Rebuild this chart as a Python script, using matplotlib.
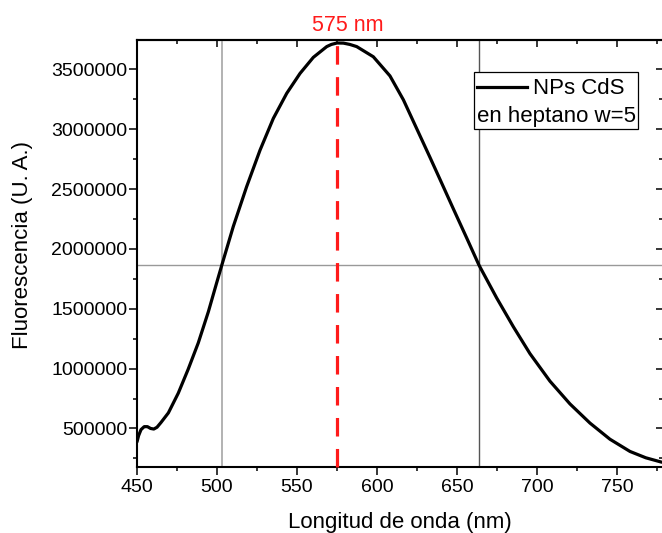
import matplotlib
matplotlib.use("Agg")
import matplotlib.pyplot as plt
import matplotlib.transforms as mtransforms
from matplotlib.patches import Rectangle
from matplotlib.lines import Line2D
from matplotlib.ticker import MultipleLocator

plt.rcParams['font.family'] = ['Liberation Sans', 'DejaVu Sans']

# Emission spectrum of CdS nanoparticles in heptane (w = 5)
wavelength = [450, 451, 452.5, 454.5, 456.5, 458.5, 460.5, 462.5, 465, 469.6,
              475.8, 482, 488.3, 494.6, 499.8, 503, 510.2, 518.5, 526.9, 535.2,
              543.6, 551.9, 560.2, 568.6, 571.5, 575, 579, 583, 587.3, 597.7,
              608.1, 616.5, 624.8, 633.1, 639.4, 647.7, 656.1, 663.75, 674.8, 685.2,
              695.6, 708.1, 720.6, 733.1, 745.6, 758.1, 768, 778]
intensity = [388000, 440000, 490000, 515000, 515000, 500000, 495000, 510000, 550000, 630000,
             795000, 995000, 1215000, 1475000, 1717000, 1864000, 2188000, 2519000, 2825000, 3090000,
             3300000, 3466000, 3600000, 3690000, 3708000, 3720000, 3719000, 3708000, 3690000, 3605000,
             3445000, 3245000, 3005000, 2765000, 2580000, 2335000, 2090000, 1864000, 1590000, 1350000,
             1125000, 895000, 705000, 545000, 410000, 308000, 255000, 218000]

peak_nm = 575
half_max = 1864000
half_left_nm = 503
half_right_nm = 663.75

series_label = "NPs CdS"
series_label_2 = "en heptano w=5"
peak_label = "575 nm"
x_title = "Longitud de onda (nm)"
y_title = "Fluorescencia (U. A.)"

W, H = 662, 533
fig = plt.figure(figsize=(W / 100, H / 100), dpi=100)
ax = fig.add_axes([137 / W, (H - 467) / H, (663.4 - 137) / W, 427 / H])

ax.set_xlim(450, 779)
ax.set_ylim(178000, 3745000)

# FWHM guide lines
ax.axhline(half_max, color='#999999', lw=1.0, zorder=1)
ax.axvline(half_left_nm, color='#a6a6a6', lw=1.2, zorder=1)
ax.axvline(half_right_nm, color='#555555', lw=1.0, zorder=1)

ax.plot(wavelength, intensity, color='black', lw=2.3, zorder=3,
        solid_joinstyle='round', solid_capstyle='round')

# Peak marker
ax.axvline(peak_nm, ymin=0, ymax=1.006, color='#ff1a1a', lw=2.3,
           linestyle=(0, (5.8, 3.9)), clip_on=False, zorder=4)
blend = mtransforms.blended_transform_factory(ax.transData, ax.transAxes)
ax.annotate(peak_label, xy=(peak_nm, 1.0), xycoords=blend,
            xytext=(-18, 6.7), textcoords='offset points',
            ha='left', va='baseline', color='#ff1a1a', fontsize=15.5)

# Ticks: outward on bottom/left, inward on top/right
ax.xaxis.set_major_locator(MultipleLocator(50))
ax.xaxis.set_minor_locator(MultipleLocator(25))
ax.yaxis.set_major_locator(MultipleLocator(500000))
ax.yaxis.set_minor_locator(MultipleLocator(250000))
ax.ticklabel_format(axis='y', style='plain', useOffset=False)
ax.tick_params(which='major', direction='out', length=5.8, width=1.1,
               labelsize=14, pad=1.0, top=False, right=False)
ax.tick_params(axis='x', which='major', pad=3.0)
ax.tick_params(which='minor', direction='out', length=3.2, width=1.1,
               top=False, right=False)

top = ax.secondary_xaxis('top')
top.xaxis.set_major_locator(MultipleLocator(50))
top.xaxis.set_minor_locator(MultipleLocator(25))
top.tick_params(which='major', direction='in', length=5.0, width=1.1, labeltop=False)
top.tick_params(which='minor', direction='in', length=3.0, width=1.1)
top.spines['top'].set_linewidth(1.5)

right = ax.secondary_yaxis('right')
right.yaxis.set_major_locator(MultipleLocator(500000))
right.yaxis.set_minor_locator(MultipleLocator(250000))
right.tick_params(which='major', direction='in', length=5.0, width=1.1, labelright=False)
right.tick_params(which='minor', direction='in', length=3.0, width=1.1)

for s in ax.spines.values():
    s.set_linewidth(1.5)

ax.set_xlabel(x_title, fontsize=16)
ax.xaxis.label.set_va('baseline')
ax.xaxis.set_label_coords(0.5, (467 - 528) / 427)
ax.set_ylabel(y_title, fontsize=16)
ax.yaxis.label.set_va('baseline')
ax.yaxis.set_label_coords((28.5 - 137) / 526.4, (467 - 245) / 427)

# Legend box
px = lambda x, y: (x / W, 1 - y / H)
x0, y0 = px(474, 129)
x1, y1 = px(638, 72)
fig.add_artist(Rectangle((x0, y0), x1 - x0, y1 - y0, transform=fig.transFigure,
                         facecolor='white', edgecolor='black', lw=0.9, zorder=10))
lx0, ly = px(477, 87)
lx1, _ = px(527, 87)
fig.add_artist(Line2D([lx0, lx1], [ly, ly], transform=fig.transFigure,
                      color='black', lw=2.3, zorder=11))
tx, ty = px(533.3, 94.3)
fig.text(tx, ty, series_label, fontsize=16, ha='left', va='baseline', zorder=11)
tx, ty = px(477.3, 121.7)
fig.text(tx, ty, series_label_2, fontsize=16, ha='left', va='baseline', zorder=11)

fig.savefig('out.png', dpi=100)
